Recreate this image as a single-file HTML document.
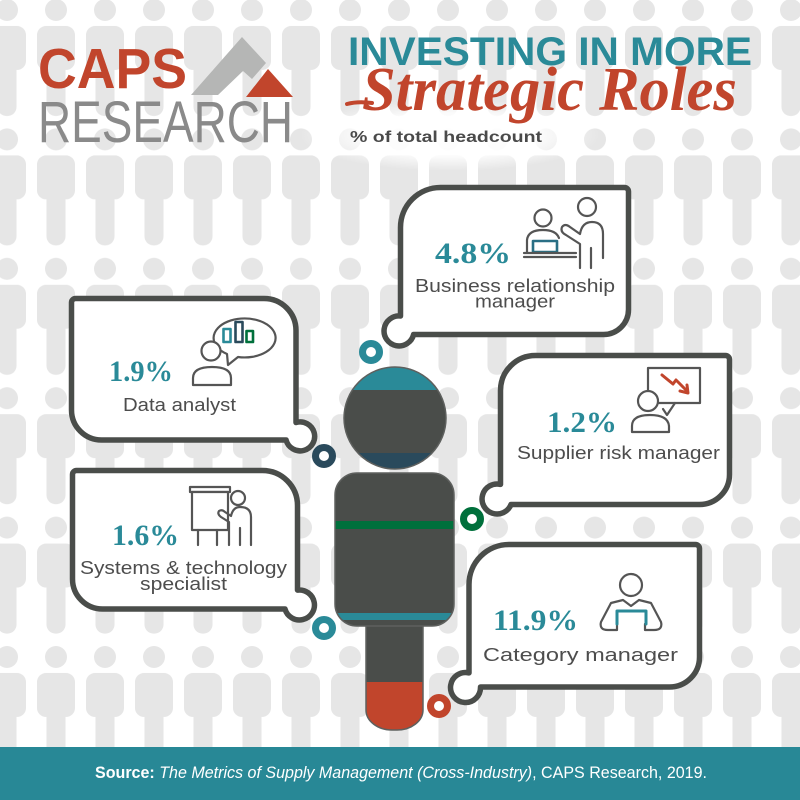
<!DOCTYPE html>
<html>
<head>
<meta charset="utf-8">
<style>
  html,body{margin:0;padding:0;background:#fff;}
  svg{display:block;}
</style>
</head>
<body>
<svg width="800" height="800" viewBox="0 0 800 800" xmlns="http://www.w3.org/2000/svg">
  <defs>
    <pattern id="people" patternUnits="userSpaceOnUse" x="-17.5" y="-1" width="49" height="129.4">
      <circle cx="24.5" cy="11" r="11" fill="#e6e6e6"/>
      <rect x="15" y="60" width="19" height="57" rx="9" fill="#e6e6e6"/>
      <rect x="5.5" y="27" width="38" height="44" rx="9" fill="#e6e6e6"/>
    </pattern>
    <radialGradient id="glow" cx="50%" cy="50%" r="50%">
      <stop offset="0" stop-color="#fff" stop-opacity="1"/>
      <stop offset="0.6" stop-color="#fff" stop-opacity="0.85"/>
      <stop offset="1" stop-color="#fff" stop-opacity="0"/>
    </radialGradient>
    <clipPath id="headClip"><circle cx="395" cy="418" r="51"/></clipPath>
    <clipPath id="bodyClip"><rect x="335" y="473" width="119" height="153" rx="22"/></clipPath>
    <clipPath id="legClip"><rect x="366" y="600" width="57" height="130" rx="26" ry="20"/></clipPath>
  </defs>

  <!-- background -->
  <rect width="800" height="800" fill="#fff"/>
  <rect width="800" height="747" fill="url(#people)"/>
  <ellipse cx="450" cy="135" rx="150" ry="36" fill="url(#glow)"/>

  <!-- logo -->
  <text x="38" y="88" font-family="Liberation Sans, sans-serif" font-weight="bold" font-size="57" fill="#c1452c" textLength="149" lengthAdjust="spacingAndGlyphs">CAPS</text>
  <polygon points="191,95 242,37 266,63 252,79 243,71 218,95" fill="#b5b6b5"/>
  <polygon points="246,97 293,97 268,69" fill="#c1452c"/>
  <text x="38" y="142" font-family="Liberation Sans, sans-serif" font-size="58" fill="#8a8a8a" textLength="255" lengthAdjust="spacingAndGlyphs">RESEARCH</text>

  <!-- title -->
  <text x="348" y="65" font-family="Liberation Sans, sans-serif" font-weight="bold" font-size="40" fill="#2a8a98" textLength="404" lengthAdjust="spacingAndGlyphs">INVESTING IN MORE</text>
  <path d="M347 104 Q358 101 372 103" stroke="#c1452c" stroke-width="4" fill="none" stroke-linecap="round"/>
  <text x="362" y="110" font-family="Liberation Serif, serif" font-style="italic" font-weight="bold" font-size="62" fill="#c1452c" textLength="375" lengthAdjust="spacingAndGlyphs">Strategic Roles</text>
  <text x="350" y="142" font-family="Liberation Sans, sans-serif" font-weight="bold" font-size="16" fill="#4a4a4a" textLength="192" lengthAdjust="spacingAndGlyphs">% of total headcount</text>

  <!-- bubbles -->
  <g fill="#fff" stroke="#4a4d4a" stroke-width="5.5" stroke-linejoin="round">
    <path d="M400.5 316 L400.5 227.5 A40 40 0 0 1 440.5 187.5 L624.5 187.5 A4 4 0 0 1 628.5 191.5 L628.5 309.5 A25 25 0 0 1 603.5 334.5 L413.6 334.5 A15 15 0 1 1 400.5 316 Z"/>
    <path d="M75.5 298.5 L264 298.5 A32 32 0 0 1 296 330.5 L296 422.5 A14.5 14.5 0 1 1 286.1 440 L101.5 440 A30 30 0 0 1 71.5 410 L71.5 302.5 A4 4 0 0 1 75.5 298.5 Z"/>
    <path d="M500.5 484.4 L500.5 390.5 A35 35 0 0 1 535.5 355.5 L725.5 355.5 A4 4 0 0 1 729.5 359.5 L729.5 474.5 A30 30 0 0 1 699.5 504.5 L511 504.5 A15 15 0 1 1 500.5 484.4 Z"/>
    <path d="M76.5 470.5 L262.5 470.5 A35 35 0 0 1 297.5 505.5 L297.5 590.1 A15 15 0 1 1 285 609 L102.5 609 A30 30 0 0 1 72.5 579 L72.5 474.5 A4 4 0 0 1 76.5 470.5 Z"/>
    <path d="M469 672.9 L469 584.5 A40 40 0 0 1 509 544.5 L695.5 544.5 A4 4 0 0 1 699.5 548.5 L699.5 657 A30 30 0 0 1 669.5 687 L480.5 687 A15 15 0 1 1 469 672.9 Z"/>
  </g>

  <!-- bubble texts -->
  <g font-family="Liberation Serif, serif" font-weight="bold" font-size="30" fill="#2a8a98">
    <text x="435" y="263" textLength="76" lengthAdjust="spacingAndGlyphs">4.8%</text>
    <text x="109" y="381" textLength="64" lengthAdjust="spacingAndGlyphs">1.9%</text>
    <text x="547" y="432" textLength="70" lengthAdjust="spacingAndGlyphs">1.2%</text>
    <text x="112" y="545" textLength="67" lengthAdjust="spacingAndGlyphs">1.6%</text>
    <text x="493" y="630" textLength="85" lengthAdjust="spacingAndGlyphs">11.9%</text>
  </g>
  <g font-family="Liberation Sans, sans-serif" font-size="18.5" fill="#4d4d4d">
    <text x="415" y="292" textLength="200" lengthAdjust="spacingAndGlyphs">Business relationship</text>
    <text x="475" y="307.5" textLength="80" lengthAdjust="spacingAndGlyphs">manager</text>
    <text x="123" y="411" textLength="113" lengthAdjust="spacingAndGlyphs">Data analyst</text>
    <text x="517" y="459" textLength="203" lengthAdjust="spacingAndGlyphs">Supplier risk manager</text>
    <text x="80" y="574" textLength="207" lengthAdjust="spacingAndGlyphs">Systems &amp; technology</text>
    <text x="140" y="590" textLength="87" lengthAdjust="spacingAndGlyphs">specialist</text>
    <text x="483" y="661" textLength="195" lengthAdjust="spacingAndGlyphs">Category manager</text>
  </g>

  <!-- icons -->
  <g stroke="#555" stroke-width="2.2" fill="none" stroke-linecap="round" stroke-linejoin="round">
    <!-- icon 1: business relationship -->
    <circle cx="543" cy="218" r="8.5" fill="#fff"/>
    <path d="M527 252 L527 240 Q528 230 543 230 Q556 230 559 238"/>
    <rect x="533" y="241" width="24" height="11" stroke="#2a6f85" stroke-width="2.6"/>
    <path d="M524 253 L576 253 M524 257 L576 257"/>
    <circle cx="587" cy="207" r="9" fill="#fff"/>
    <path d="M580 268 L580 244 L566 235 Q560 232 562 227 Q565 223 570 227 L580 234 Q582 222 592 222 Q603 222 603 234 L603 258 M591 268 L591 248"/>
    <!-- icon 2: data analyst -->
    <path d="M227 354 A31 19.5 0 1 1 238 357 L228 365 Z" fill="#fff"/>
    <rect x="223.5" y="329" width="7" height="13" stroke="#2a8a98" stroke-width="2.6"/>
    <rect x="235.5" y="322" width="7" height="20" stroke="#2a4a5c" stroke-width="2.6"/>
    <rect x="246.5" y="331" width="6.5" height="11" stroke="#00703c" stroke-width="2.6"/>
    <circle cx="211" cy="351" r="9.5" fill="#fff"/>
    <path d="M193 385 L193 378 Q193 367 212 367 Q231 367 231 378 L231 385 Z" fill="#fff"/>
    <!-- icon 3: supplier risk -->
    <rect x="648" y="368" width="52" height="35" fill="#fff"/>
    <path d="M662 375 L673 384 L676 380 L686 390" stroke="#c1452c" stroke-width="3"/>
    <path d="M680 391 L688 393 L687 385" stroke="#c1452c" stroke-width="3"/>
    <circle cx="648" cy="401" r="10" fill="#fff"/>
    <path d="M632 432 L632 426 Q632 415 650 415 Q668 415 669 426 L669 432 Z" fill="#fff"/>
    <path d="M663 409 L667 415 L675 403"/>
    <!-- icon 4: systems & technology -->
    <rect x="190" y="487" width="40" height="5"/>
    <rect x="192" y="492" width="36" height="38" fill="#fff"/>
    <path d="M198 530 L198 545 M217 530 L217 545"/>
    <circle cx="238" cy="498" r="7" fill="#fff"/>
    <path d="M229 545 L229 522 L221 517 Q217 514 219 511 Q222 509 225 512 L231 516 Q233 507 240 507 Q251 507 251 517 L251 545 M240 545 L240 528"/>
    <!-- icon 5: category manager -->
    <circle cx="631" cy="585" r="11" fill="#fff"/>
    <path d="M623 600 L611 603 L601 622 Q599 630 608 630 L617 630 L617 624 M639 600 L651 603 L661 622 Q663 630 654 630 L645 630 L645 624 M623 600 L631 606 L639 600"/>
    <path d="M617 624 L617 611 L646 611 L646 624" stroke="#2a8a98" stroke-width="3"/>
  </g>

  <!-- central figure -->
  <g>
    <rect x="366" y="600" width="57" height="130" rx="26" ry="20" fill="#4a4d4a"/>
    <g clip-path="url(#legClip)">
      <rect x="360" y="682" width="70" height="50" fill="#c1452c"/>
    </g>
    <rect x="366" y="600" width="57" height="130" rx="26" ry="20" fill="none" stroke="#5e605e" stroke-width="1.5"/>
    <rect x="335" y="473" width="119" height="153" rx="22" fill="#4a4d4a"/>
    <g clip-path="url(#bodyClip)">
      <rect x="330" y="521" width="130" height="8" fill="#00703c"/>
      <rect x="330" y="613" width="130" height="7" fill="#2a8a98"/>
    </g>
    <rect x="335" y="473" width="119" height="153" rx="22" fill="none" stroke="#5e605e" stroke-width="1.5"/>
    <circle cx="395" cy="418" r="51" fill="#4a4d4a"/>
    <g clip-path="url(#headClip)">
      <rect x="340" y="360" width="110" height="30" fill="#2a8a98"/>
      <rect x="340" y="453" width="110" height="20" fill="#2a4a5c"/>
    </g>
    <circle cx="395" cy="418" r="51" fill="none" stroke="#5e605e" stroke-width="1.5"/>
  </g>

  <!-- rings -->
  <g fill="#fff" stroke-width="7">
    <circle cx="371" cy="352" r="8.5" stroke="#2a8a98"/>
    <circle cx="324" cy="456" r="8.5" stroke="#2a4a5c"/>
    <circle cx="472" cy="519" r="8.5" stroke="#00703c"/>
    <circle cx="324" cy="628" r="8.5" stroke="#2a8a98"/>
    <circle cx="439" cy="706" r="8.5" stroke="#c1452c"/>
  </g>

  <!-- footer -->
  <rect x="0" y="747" width="800" height="53" fill="#288896"/>
  <text x="95" y="778" font-family="Liberation Sans, sans-serif" font-size="17" fill="#fff" textLength="612" lengthAdjust="spacingAndGlyphs"><tspan font-weight="bold">Source:</tspan> <tspan font-style="italic">The Metrics of Supply Management (Cross-Industry)</tspan>, CAPS Research, 2019.</text>
</svg>
</body>
</html>
